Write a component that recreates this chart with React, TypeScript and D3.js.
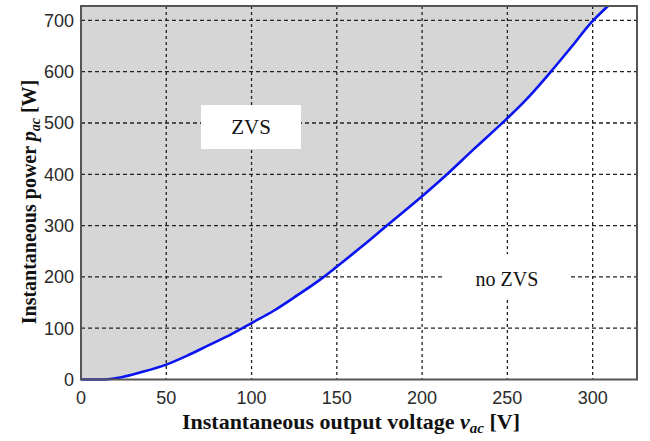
import React from "react";
import * as d3 from "d3";

const voltage = [0, 14, 23, 35, 50, 62, 75, 88, 100, 113, 125, 142, 150, 165, 179, 200, 214, 230, 248, 262, 275, 288, 299, 309];
const power = [0, 0, 4, 14, 29, 46, 67, 88, 110, 134, 160, 199, 220, 260, 299, 357, 398, 448, 503, 549, 598, 650, 695, 729];
const xTicks = [0, 50, 100, 150, 200, 250, 300];
const yTicks = [0, 100, 200, 300, 400, 500, 600, 700];

const W = 650, H = 441;
const L = 81, R = 637, T = 6, B = 379.5;

export default function App() {
  const x = d3.scaleLinear().domain([0, 326]).range([L, R]);
  const y = d3.scaleLinear().domain([0, 728]).range([B, T]);
  const pts: [number, number][] = voltage.map((v, i) => [v, power[i]]);
  const line = d3.line<[number, number]>().x(d => x(d[0])).y(d => Math.max(T, y(d[1]))).curve(d3.curveMonotoneX);
  const area = d3.area<[number, number]>().x(d => x(d[0])).y0(T).y1(d => Math.max(T, y(d[1]))).curve(d3.curveMonotoneX);
  return (
    <svg width={W} height={H} style={{ position: "absolute", left: 0, top: 0 }}>
      <rect x={0} y={0} width={W} height={H} fill="#fff" />
      <rect x={L} y={T} width={R - L} height={B - T} fill="#fff" />
      <path d={area(pts) || ""} fill="#d6d6d6" />
      {xTicks.filter(t => t > 0).map(t => (
        <line key={"gx" + t} x1={x(t)} x2={x(t)} y1={T} y2={B} stroke="#222" strokeWidth={1.3} strokeDasharray="3,3" />
      ))}
      {yTicks.filter(t => t > 0).map(t => (
        <line key={"gy" + t} x1={L} x2={R} y1={y(t)} y2={y(t)} stroke="#222" strokeWidth={1.3} strokeDasharray="4,3" />
      ))}
      <rect x={201} y={105} width={100} height={44} fill="#fff" />
      <text x={251} y={134} textAnchor="middle" fontFamily="Liberation Serif, serif" fontSize={21} fill="#111">ZVS</text>
      <rect x={443} y={254} width={127} height={46} fill="#fff" />
      <text x={507} y={286} textAnchor="middle" fontFamily="Liberation Serif, serif" fontSize={20} fill="#111">no ZVS</text>
      <path d={line(pts) || ""} fill="none" stroke="#0a14f0" strokeWidth={2.6} />
      <rect x={L} y={T} width={R - L} height={B - T} fill="none" stroke="#555" strokeWidth={2} />
      {xTicks.map(t => (
        <text key={"xt" + t} x={x(t)} y={404} textAnchor="middle" fontFamily="Liberation Sans, Arial, sans-serif" fontSize={18} fill="#2a2a2a">{t}</text>
      ))}
      {yTicks.map(t => (
        <text key={"yt" + t} x={74} y={y(t) + 6.5} textAnchor="end" fontFamily="Liberation Sans, Arial, sans-serif" fontSize={18} fill="#2a2a2a">{t}</text>
      ))}
      <text x={351} y={429} textAnchor="middle" fontFamily="Liberation Serif, serif" fontWeight="bold" fontSize={22} fill="#111">
        Instantaneous output voltage <tspan fontStyle="italic">v</tspan><tspan fontStyle="italic" fontSize={15} dy={4}>ac</tspan><tspan dy={-4}> [V]</tspan>
      </text>
      <text transform={`translate(36,202) rotate(-90)`} textAnchor="middle" fontFamily="Liberation Serif, serif" fontWeight="bold" fontSize={20} fill="#111">
        Instantaneous power <tspan fontStyle="italic">p</tspan><tspan fontStyle="italic" fontSize={14} dy={4}>ac</tspan><tspan dy={-4}> [W]</tspan>
      </text>
    </svg>
  );
}
